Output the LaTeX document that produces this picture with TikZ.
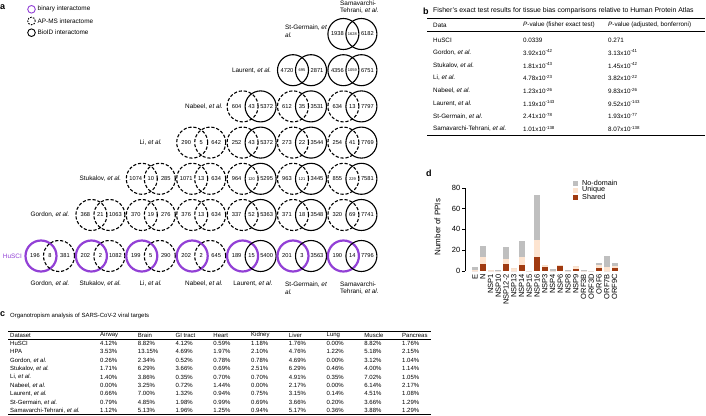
\documentclass[tikz,border=0pt]{standalone}
\usepackage{fontspec}
\setmainfont{Liberation Sans}
\usepackage{xcolor}

\definecolor{husci}{RGB}{146,64,214}
\definecolor{shared}{RGB}{160,58,16}
\definecolor{unique}{RGB}{253,228,208}
\definecolor{nodomain}{RGB}{191,191,191}

\tikzset{
  binary/.style={draw=husci, line width=2.2pt},
  apms/.style={draw=black, line width=1.1pt, dash pattern=on 3.2pt off 1.8pt},
  bioid/.style={draw=black, line width=1.1pt},
  num/.style={inner sep=0pt, font=\fontsize{5.7}{6}\selectfont},
  lbl/.style={inner sep=0pt, font=\fontsize{6.4}{7.8}\selectfont},
  panel/.style={inner sep=0pt, anchor=west, font=\bfseries\fontsize{9}{10}\selectfont},
  cell/.style={inner sep=0pt, anchor=west, font=\fontsize{6}{7}\selectfont},
  bcell/.style={cell, font=\fontsize{6.3}{7}\selectfont},
  tick/.style={inner sep=0pt, anchor=east, font=\fontsize{7.5}{8}\selectfont},
  cat/.style={inner sep=0pt, anchor=east, rotate=90, font=\fontsize{7.5}{8}\selectfont},
  key/.style={inner sep=0pt, anchor=west, font=\fontsize{7.2}{8}\selectfont},
}

\newcommand{\etal}{\textit{et al.}}
\newcommand{\lenssmall}{\fontsize{4}{4.5}\selectfont}
% #1 name, #2 x, #3 y, #4 left circle, #5 right circle, #6-#8 counts
\newcommand{\vennpair}[8]{%
  \draw[#4] (#2-9,#3) circle[radius=15.5pt];
  \draw[#5] (#2+9,#3) circle[radius=15.5pt];
  \node[num] (#1a) at (#2-15,#3) {#6};
  \node[num] (#1b) at (#2,#3) {#7};
  \node[num] (#1c) at (#2+15,#3) {#8};
}

\begin{document}
\begin{tikzpicture}[x=1pt,y=-1pt]
	\fill[white] (0,0) rectangle (706,415);
	\useasboundingbox (0,0) rectangle (706,415);

	% a: overlap of interactomes
	\node[panel] (pa) at (0,7) {a};
	\draw[binary, line width=0.9pt] (31.5,9.3) circle[radius=3.8pt];
	\draw[apms, line width=0.9pt, dash pattern=on 1.6pt off 1.2pt] (31.5,21) circle[radius=3.8pt];
	\draw[bioid, line width=0.9pt] (31.5,32.7) circle[radius=3.8pt];
	\node[lbl, anchor=west] (kbinary) at (37.5,9.3) {binary interactome};
	\node[lbl, anchor=west] (kapms) at (37.5,21) {AP-MS interactome};
	\node[lbl, anchor=west] (kbioid) at (37.5,32.7) {BioID interactome};

	\node[lbl, anchor=west, align=left] (rSamavarchi) at (340,7) {Samavarchi-\\Tehrani, \etal};
	\node[lbl, anchor=west, align=left] (rStGermain) at (285,31.5) {St-Germain, \textit{et}\\\textit{al.}};
	\node[lbl] (rLaurent) at (251.6,70.2) {Laurent, \etal};
	\node[lbl] (rNabeel) at (204,106.4) {Nabeel, \etal};
	\node[lbl] (rLi) at (150.8,142.6) {Li, \etal};
	\node[lbl] (rStukalov) at (100.4,178.8) {Stukalov, \etal};
	\node[lbl] (rGordon) at (50,215) {Gordon, \etal};
	\node[lbl, anchor=east, text=husci] (rHuSCI) at (22,256) {HuSCI};

	\vennpair{t7}{352.4}{34}{bioid}{bioid}{1938}{\lenssmall 1628}{6182}

	\vennpair{r6}{302}{70.2}{bioid}{bioid}{4720}{\lenssmall 695}{2871}
	\vennpair{r7}{352.4}{70.2}{bioid}{bioid}{4356}{\lenssmall 1059}{6751}

	\vennpair{n5}{251.6}{106.4}{apms}{bioid}{604}{43}{5372}
	\vennpair{n6}{302}{106.4}{apms}{bioid}{612}{35}{3531}
	\vennpair{n7}{352.4}{106.4}{apms}{bioid}{634}{13}{7797}

	\vennpair{l4}{201.2}{142.6}{apms}{apms}{290}{5}{642}
	\vennpair{l5}{251.6}{142.6}{apms}{bioid}{252}{43}{5372}
	\vennpair{l6}{302}{142.6}{apms}{bioid}{273}{22}{3544}
	\vennpair{l7}{352.4}{142.6}{apms}{bioid}{254}{41}{7769}

	\vennpair{s3}{150.8}{178.8}{apms}{apms}{1074}{10}{285}
	\vennpair{s4}{201.2}{178.8}{apms}{apms}{1071}{13}{634}
	\vennpair{s5}{251.6}{178.8}{apms}{bioid}{964}{\lenssmall 120}{5295}
	\vennpair{s6}{302}{178.8}{apms}{bioid}{963}{\lenssmall 121}{3445}
	\vennpair{s7}{352.4}{178.8}{apms}{bioid}{855}{\lenssmall 229}{7581}

	\vennpair{g2}{100.4}{215}{apms}{apms}{368}{21}{1063}
	\vennpair{g3}{150.8}{215}{apms}{apms}{370}{19}{276}
	\vennpair{g4}{201.2}{215}{apms}{apms}{376}{13}{634}
	\vennpair{g5}{251.6}{215}{apms}{bioid}{337}{52}{5363}
	\vennpair{g6}{302}{215}{apms}{bioid}{371}{18}{3548}
	\vennpair{g7}{352.4}{215}{apms}{bioid}{320}{69}{7741}

	\vennpair{h1}{50}{256}{binary}{apms}{196}{8}{381}
	\vennpair{h2}{100.4}{256}{binary}{apms}{202}{2}{1082}
	\vennpair{h3}{150.8}{256}{binary}{apms}{199}{5}{290}
	\vennpair{h4}{201.2}{256}{binary}{apms}{202}{2}{645}
	\vennpair{h5}{251.6}{256}{binary}{bioid}{189}{15}{5400}
	\vennpair{h6}{302}{256}{binary}{bioid}{201}{3}{3563}
	\vennpair{h7}{352.4}{256}{binary}{bioid}{190}{14}{7796}

	\node[lbl] (bGordon) at (50,284) {Gordon, \etal};
	\node[lbl] (bStukalov) at (100.4,284) {Stukalov, \etal};
	\node[lbl] (bLi) at (150.8,284) {Li, \etal};
	\node[lbl] (bNabeel) at (204,284) {Nabeel, \etal};
	\node[lbl] (bLaurent) at (253,284) {Laurent, \etal};
	\node[lbl, anchor=west, align=left] (bStGermain) at (285,288) {St-Germain, \textit{et}\\\textit{al.}};
	\node[lbl, anchor=west, align=left] (bSamavarchi) at (340,288) {Samavarchi-\\Tehrani, \etal};

	% b: Fisher's exact test
	\node[panel] (pb) at (423,11) {b};
	\node[bcell, font=\fontsize{6.9}{7}\selectfont] (btitle) at (433,11) {Fisher's exact test results for tissue bias comparisons relative to Human Protein Atlas};
	\draw[line width=0.8pt] (427,18) -- (705,18);
	\draw[line width=0.4pt] (427,31.5) -- (705,31.5);
	\draw[line width=0.8pt] (427,135) -- (705,135);
	\node[bcell] (bh1) at (433,25) {Data};
	\node[bcell] (bh2) at (523,25) {\textit{P}-value (fisher exact test)};
	\node[bcell] (bh3) at (608,25) {\textit{P}-value (adjusted, bonferroni)};
	\foreach \ds/\pa/\pb [count=\i from 0] in {
		HuSCI/0.0339/0.271,
		{Gordon, \etal}/3.92x10\textsuperscript{-42}/3.13x10\textsuperscript{-41},
		{Stukalov, \etal}/1.81x10\textsuperscript{-43}/1.45x10\textsuperscript{-42},
		{Li, \etal}/4.78x10\textsuperscript{-23}/3.82x10\textsuperscript{-22},
		{Nabeel, \etal}/1.23x10\textsuperscript{-26}/9.83x10\textsuperscript{-26},
		{Laurent, \etal}/1.19x10\textsuperscript{-143}/9.52x10\textsuperscript{-143},
		{St-Germain, \etal}/2.41x10\textsuperscript{-78}/1.93x10\textsuperscript{-77},
		{Samavarchi-Tehrani, \etal}/1.01x10\textsuperscript{-138}/8.07x10\textsuperscript{-138}} {
		\node[bcell] (bd\i) at (433,40+12.7*\i) {\ds};
		\node[bcell] (bp\i) at (523,40+12.7*\i) {\pa};
		\node[bcell] (bq\i) at (608,40+12.7*\i) {\pb};
	}

	% c: organotropism
	\node[panel] (pc) at (0,314) {c};
	\node[cell] (ctitle) at (10,316) {Organotropism analysis of SARS-CoV-2 viral targets};
	\draw[line width=0.7pt] (8,331) -- (431,331);
	\draw[line width=0.4pt] (8,339) -- (431,339);
	\draw[line width=0.7pt] (8,414.2) -- (431,414.2);
	\node[cell] (chd) at (10,335) {Dataset};
	\foreach \org [count=\j from 0] in {Airway,Brain,GI tract,Heart,Kidney,Liver,Lung,Muscle,Pancreas}
		\node[cell] (ch\j) at (100+37.75*\j,335) {\org};
	\foreach \ds/\vals [count=\i from 0] in {
		HuSCI/{4.12,8.82,4.12,0.59,1.18,1.76,0.00,8.82,1.76},
		HPA/{3.53,13.15,4.69,1.97,2.10,4.76,1.22,5.18,2.15},
		{Gordon, \etal}/{0.26,2.34,0.52,0.78,0.78,4.69,0.00,3.12,1.04},
		{Stukalov, \etal}/{1.71,6.29,3.66,0.69,2.51,6.29,0.46,4.00,1.14},
		{Li, \etal}/{1.40,3.86,0.35,0.70,0.70,4.91,0.35,7.02,1.05},
		{Nabeel, \etal}/{0.00,3.25,0.72,1.44,0.00,2.17,0.00,6.14,2.17},
		{Laurent, \etal}/{0.66,7.00,1.32,0.94,0.75,3.15,0.14,4.51,1.08},
		{St-Germain, \etal}/{0.79,4.85,1.98,0.99,0.69,3.66,0.20,3.66,1.29},
		{Samavarchi-Tehrani, \etal}/{1.12,5.13,1.96,1.25,0.94,5.17,0.36,3.88,1.29}} {
		\node[cell] (cd\i) at (10,343.5+8.4*\i) {\ds};
		\foreach \v [count=\j from 0] in \vals
			\node[cell] (cv\i-\j) at (100+37.75*\j,343.5+8.4*\i) {\v\%};
	}

	% d: PPIs per viral protein
	\node[panel] (pd) at (426,173) {d};
	\draw[line width=0.6pt] (465,271) -- (465,187.8);
	\foreach \t in {0,20,40,60,80} {
		\draw[line width=0.6pt] (462,271-1.04*\t) -- (465,271-1.04*\t);
		\node[tick] (tk\t) at (460.5,271-1.04*\t) {\t};
	}
	\node[inner sep=0pt, rotate=90, font=\fontsize{8}{9}\selectfont] (ylab) at (437.5,227) {Number of PPIs};
	\foreach \nm/\sh/\un/\nd [count=\i from 0] in {E/0/1/3, N/7/6/11, NSP1/0/1/0, NSP10/0/0/1, NSP12-2/7/5/11, NSP13/0/3/0, NSP14/6/7/16, NSP15/0/0/0, NSP16/13/17/43, NSP3/4/2/0, NSP4/0/0/2, NSP6/5/1/0, NSP8/0/0/1, NSP9/2/3/0, ORF3B/0/0/1, ORF3D/0/0/0, ORF6/3/3/2, ORF7B/0/4/10, ORF9C/3/2/3} {
		\pgfmathsetmacro\bx{475+7.75*\i}
		\fill[shared] (\bx-3,271) rectangle (\bx+3,271-1.04*\sh);
		\fill[unique] (\bx-3,271-1.04*\sh) rectangle (\bx+3,271-1.04*\sh-1.04*\un);
		\fill[nodomain] (\bx-3,271-1.04*\sh-1.04*\un) rectangle (\bx+3,271-1.04*\sh-1.04*\un-1.04*\nd);
		\node[cat] (cat\i) at (\bx,274) {\nm};
	}
	\fill[nodomain] (573,180.5) rectangle (578,185.5);
	\fill[unique] (573,187.5) rectangle (578,192.5);
	\fill[shared] (573,194.5) rectangle (578,199.5);
	\node[key] (kNodomain) at (582,183) {No-domain};
	\node[key] (kUnique) at (582,190) {Unique};
	\node[key] (kShared) at (582,197) {Shared};
\end{tikzpicture}
\end{document}
